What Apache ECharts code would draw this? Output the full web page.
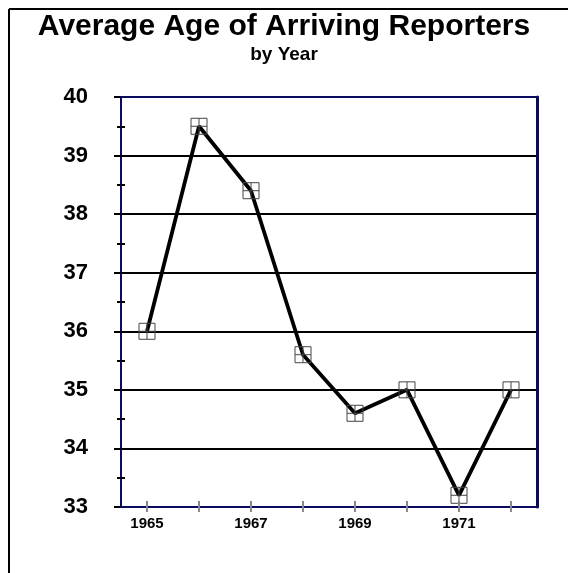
<!DOCTYPE html>
<html>
<head>
<meta charset="utf-8">
<script src="https://cdn.jsdelivr.net/npm/echarts@6/dist/echarts.min.js"></script>
<style>html,body{margin:0;padding:0;background:#fff}#c{width:568px;height:573px}</style>
</head>
<body>
<div id="c"></div>
<script>
const years = ['1965','1966','1967','1968','1969','1970','1971','1972'];
const avgAge = [36.0, 39.5, 38.4, 35.6, 34.6, 35.0, 33.2, 35.0];
const yMin = 33, yMax = 40, yStep = 1;
const titleText = 'Average Age of Arriving Reporters';
const subTitleText = 'by Year';

const FONT = '"Liberation Sans", Arial, sans-serif';
const NAVY = '#0a0a5e';
const chart = echarts.init(document.getElementById('c'), null, {renderer: 'canvas'});
const hiddenAxis = {axisLabel:{show:false}, splitLine:{show:false}};
chart.setOption({
  animation: false,
  backgroundColor: '#fff',
  graphic: [
    {type:'line', shape:{x1:9, y1:9, x2:568, y2:9}, style:{stroke:'#000', lineWidth:2}},
    {type:'line', shape:{x1:9, y1:9, x2:9, y2:573}, style:{stroke:'#000', lineWidth:2}}
  ],
  title: [
    {text: titleText, left: 'center', top: 7,
     textStyle:{fontFamily: FONT, fontWeight:'bold', fontSize: 30, color:'#000'}},
    {text: subTitleText, left: 'center', top: 40,
     textStyle:{fontFamily: FONT, fontWeight:'bold', fontSize: 19, color:'#000'}}
  ],
  grid: {left: 121, right: 31, top: 97, bottom: 66, containLabel: false},
  xAxis: [
    {type:'category', data: years, boundaryGap: true, position:'bottom', z: 5,
     axisLine:{show:true, lineStyle:{color: NAVY, width: 2}},
     axisTick:{show:true, alignWithLabel:true, interval:0, length:5, lineStyle:{color:'#888', width:2}},
     axisLabel:{interval:1, margin:9, fontFamily: FONT, fontWeight:'bold', fontSize:15, color:'#000'},
     splitLine:{show:false}},
    Object.assign({type:'category', data: years, boundaryGap: true, position:'bottom', z: 5,
     axisLine:{show:false},
     axisTick:{show:true, inside:true, alignWithLabel:true, interval:0, length:6, lineStyle:{color:'#888', width:2}}}, hiddenAxis),
    Object.assign({type:'category', data: years, boundaryGap: true, position:'top', z: 5,
     axisLine:{show:true, lineStyle:{color: NAVY, width: 2}},
     axisTick:{show:false}}, hiddenAxis)
  ],
  yAxis: [
    {type:'value', min: yMin, max: yMax, interval: yStep, position:'left', z: 3,
     axisLine:{show:true, lineStyle:{color: NAVY, width: 2}},
     axisTick:{show:true, length:7, lineStyle:{color:'#000', width:2}},
     minorTick:{show:true, splitNumber:2, length:4, lineStyle:{color:'#000', width:2}},
     axisLabel:{margin:33, fontFamily: FONT, fontWeight:'bold', fontSize:22, color:'#000'},
     splitLine:{show:true, lineStyle:{color:'#000', width:2}}},
    Object.assign({type:'value', min: yMin, max: yMax, interval: yStep, position:'left', z: 3,
     axisLine:{show:false},
     axisTick:{show:true, inside:true, length:5, lineStyle:{color:'#000', width:2}},
     minorTick:{show:true, splitNumber:2, length:4, lineStyle:{color:'#000', width:2}}}, {axisLabel:{show:false}, splitLine:{show:false}}),
    Object.assign({type:'value', min: yMin, max: yMax, interval: yStep, position:'right', z: 5,
     axisLine:{show:true, lineStyle:{color: NAVY, width: 3}},
     axisTick:{show:false}}, hiddenAxis)
  ],
  series: [{
    type:'line', data: avgAge, xAxisIndex:0, yAxisIndex:0, z: 4,
    lineStyle:{color:'#000', width:3.8},
    symbol:'path://M0,0L20,0L20,20L0,20Z M10,0L10,20 M0,10L20,10',
    symbolSize: 16,
    itemStyle:{color:'rgba(0,0,0,0)', borderColor:'#444', borderWidth:1},
    emphasis:{disabled:true}
  }]
});
</script>
</body>
</html>
